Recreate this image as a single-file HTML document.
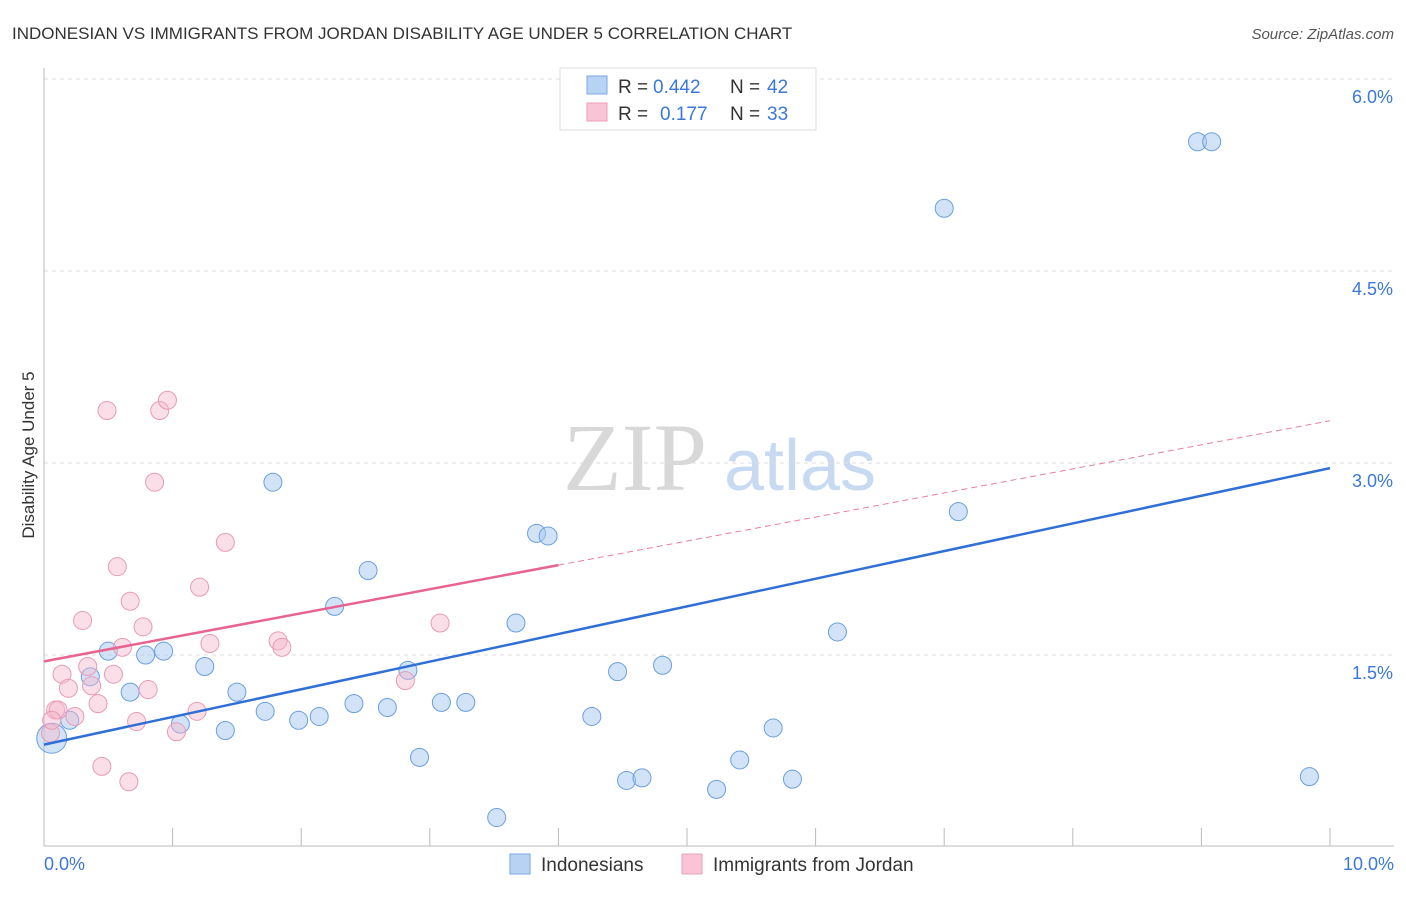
<!DOCTYPE html>
<html><head><meta charset="utf-8"><style>
body{margin:0;background:#fff;font-family:"Liberation Sans",sans-serif;}
</style></head><body>
<svg id="c" width="1406" height="892" xmlns="http://www.w3.org/2000/svg" font-family="Liberation Sans, sans-serif">
<text x="12" y="39" font-size="17" fill="#333">INDONESIAN VS IMMIGRANTS FROM JORDAN DISABILITY AGE UNDER 5 CORRELATION CHART</text>
<text x="1394" y="39" font-size="15" fill="#555" font-style="italic" text-anchor="end">Source: ZipAtlas.com</text>
<text x="34" y="455" font-size="17" fill="#333" transform="rotate(-90 34 455)" text-anchor="middle">Disability Age Under 5</text>
<g>
<text x="635" y="490" font-size="96" style="font-family:'Liberation Serif',serif" fill="#d8d8d8" text-anchor="middle">ZIP</text>
<text x="800" y="490" font-size="72" fill="#c8daf2" text-anchor="middle">atlas</text>
</g>
<g id="grid"></g><g id="axes"></g><g id="lines"></g><g id="pts"></g>
<g>
<rect x="560" y="68" width="256" height="62" fill="#fff" stroke="#ddd"/>
<rect x="587" y="76" width="20" height="18" fill="#b8d2f4" stroke="#7aa8e4"/>
<rect x="587" y="103" width="20" height="18" fill="#f9c4d6" stroke="#eaa0ba"/>
<text x="618" y="93" font-size="19" fill="#333">R =</text>
<text x="653" y="93" font-size="19" fill="#3b78d8">0.442</text>
<text x="730" y="93" font-size="19" fill="#333">N =</text>
<text x="767" y="93" font-size="19" fill="#3b78d8">42</text>
<text x="618" y="120" font-size="19" fill="#333">R =</text>
<text x="660" y="120" font-size="19" fill="#3b78d8">0.177</text>
<text x="730" y="120" font-size="19" fill="#333">N =</text>
<text x="767" y="120" font-size="19" fill="#3b78d8">33</text>
</g>
<g>
<rect x="510" y="854" width="20" height="20" fill="#b8d2f4" stroke="#7aa8e4"/>
<text x="541" y="871" font-size="19" fill="#333">Indonesians</text>
<rect x="682" y="854" width="20" height="20" fill="#f9c4d6" stroke="#eaa0ba"/>
<text x="713" y="871" font-size="19" fill="#333">Immigrants from Jordan</text>
</g>
</svg>
<script>
const yTicks=[1.5,3.0,4.5,6.0];
const xTickLabels=["0.0%","10.0%"];
const blueX=[.06,.20,.50,.36,.67,.79,.93,1.06,1.25,1.41,1.50,1.72,1.78,1.98,2.14,2.26,2.41,2.52,2.67,2.83,2.92,3.09,3.28,3.52,3.67,3.83,3.92,4.26,4.46,4.53,4.65,4.81,5.23,5.41,5.67,5.82,6.17,7.00,7.11,8.97,9.08,9.84];
const blueY=[.85,.99,1.53,1.33,1.21,1.50,1.53,.96,1.41,.91,1.21,1.06,2.85,.99,1.02,1.88,1.12,2.16,1.09,1.38,.70,1.13,1.13,.23,1.75,2.45,2.43,1.02,1.37,.52,.54,1.42,.45,.68,.93,.53,1.68,4.99,2.62,5.51,5.51,.55];
const pinkX=[.05,.09,.14,.19,.24,.30,.34,.37,.42,.45,.49,.54,.57,.61,.66,.67,.72,.77,.81,.86,.90,.96,1.03,1.19,1.21,1.29,1.41,1.82,1.85,2.81,3.08,.11,.06];
const pinkY=[.89,1.07,1.35,1.24,1.02,1.77,1.41,1.26,1.12,.63,3.41,1.35,2.19,1.56,.51,1.92,.98,1.72,1.23,2.85,3.41,3.49,.90,1.06,2.03,1.59,2.38,1.61,1.56,1.30,1.75,1.07,.99];
const blueLine=[0.80,2.96];
const pinkLine=[1.45,3.33];
const pinkSolidEnd=4.0;
const NS="http://www.w3.org/2000/svg";
const sx=v=>44+v*128.6, sy=v=>847-v*128;
function mk(tag,attrs,parent){const e=document.createElementNS(NS,tag);for(const k in attrs)e.setAttribute(k,attrs[k]);document.getElementById(parent).appendChild(e);return e;}
yTicks.forEach(t=>{
 const l=mk('line',{x1:44,x2:1394,y1:sy(t),y2:sy(t),stroke:'#ddd','stroke-dasharray':'4,4'},'grid');
 
 
 const tx=mk('text',{x:1393,y:sy(t)+24,'font-size':18,fill:'#3b78d8','text-anchor':'end'},'grid');
 tx.textContent=t.toFixed(1)+'%';
 
 
});
mk('line',{x1:44,x2:44,y1:68,y2:846,stroke:'#bbb'},'axes');
mk('line',{x1:44,x2:1394,y1:846,y2:846,stroke:'#bbb'},'axes');
for(let i=0;i<=10;i++){mk('line',{x1:sx(i),x2:sx(i),y1:828,y2:846,stroke:'#bbb'},'axes');}
const xl0=mk('text',{x:44,y:870,'font-size':18,fill:'#3b78d8'},'axes');xl0.textContent=xTickLabels[0];


const xl1=mk('text',{x:1394,y:870,'font-size':18,fill:'#3b78d8','text-anchor':'end'},'axes');xl1.textContent=xTickLabels[1];


const pAt=x=>pinkLine[0]+(pinkLine[1]-pinkLine[0])*x/10;
const pd=mk('line',{x1:sx(pinkSolidEnd),y1:sy(pAt(pinkSolidEnd)),x2:sx(10),y2:sy(pinkLine[1]),stroke:'#e87fa3','stroke-width':1,'stroke-dasharray':'6,4'},'lines');


blueX.forEach((x,i)=>{const c=mk('circle',{cx:sx(x),cy:sy(blueY[i]),r:i==0?15:9,fill:'rgba(168,200,240,0.5)',stroke:'#6a9fe0','stroke-width':1},'pts');
 
 });
pinkX.forEach((x,i)=>{const c=mk('circle',{cx:sx(x),cy:sy(pinkY[i]),r:9,fill:'rgba(245,184,204,0.45)',stroke:'#e99ab6','stroke-width':1},'pts');
 
 });
const bl=mk('line',{x1:sx(0),y1:sy(blueLine[0]),x2:sx(10),y2:sy(blueLine[1]),stroke:'#2f6fd6','stroke-width':2.5},'pts');


const pl=mk('line',{x1:sx(0),y1:sy(pinkLine[0]),x2:sx(pinkSolidEnd),y2:sy(pAt(pinkSolidEnd)),stroke:'#e8638f','stroke-width':2.5},'pts');


</script>
</body></html>
